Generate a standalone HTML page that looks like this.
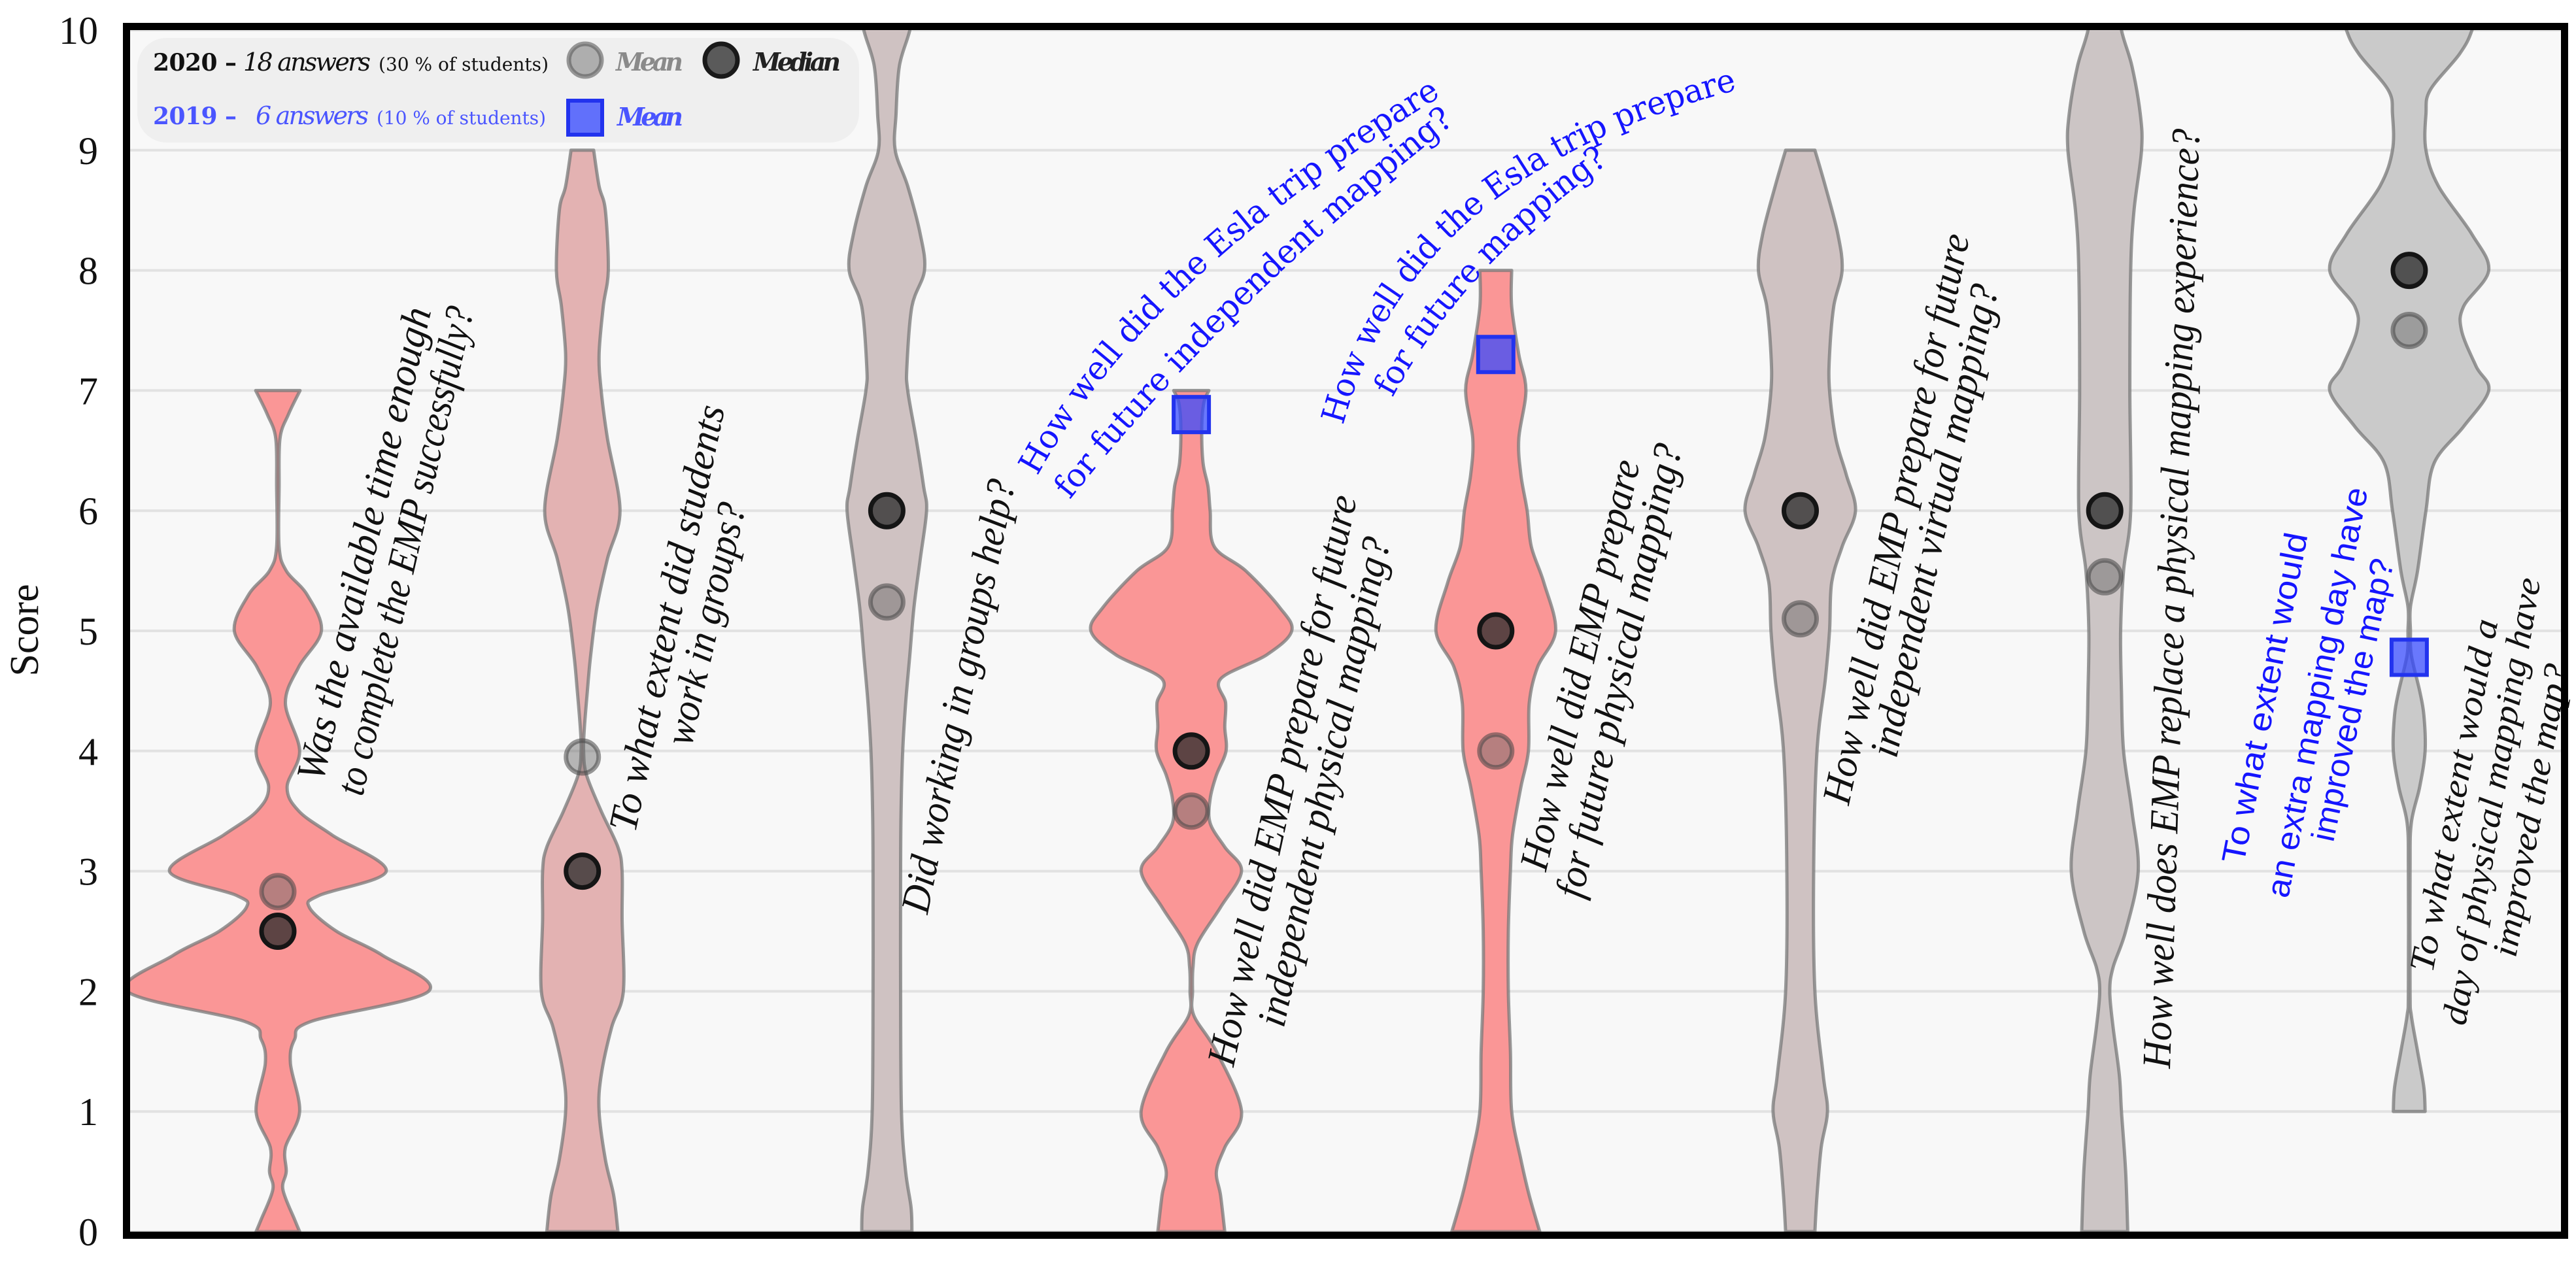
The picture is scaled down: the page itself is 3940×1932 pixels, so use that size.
<!DOCTYPE html>
<html><head><meta charset="utf-8"><style>
html,body{margin:0;padding:0;background:#fff;}
svg{display:block;}
</style></head><body>
<svg id="chart" width="3940" height="1932" viewBox="0 0 3940 1932" xmlns="http://www.w3.org/2000/svg" xmlns:xlink="http://www.w3.org/1999/xlink">
<defs><clipPath id="plotclip"><rect x="199" y="46" width="3718" height="1838"/></clipPath></defs>
<rect x="199" y="46" width="3718" height="1838" fill="#f8f8f8"/>
<g id="grid"></g>
<g id="violins" clip-path="url(#plotclip)"></g>
<g id="markers"></g>
<g id="labels" font-family="'Liberation Serif', serif" font-style="italic" font-size="62" fill="#111"></g>
<g>
  <rect x="210" y="58" width="1104" height="160" rx="45" fill="#eeeeee" fill-opacity="0.95"/>
  <text x="234" y="108" font-family="'DejaVu Serif', serif" fill="#111" font-size="36"><tspan font-weight="bold" textLength="128">2020 –</tspan><tspan x="372" font-style="italic" font-size="38" textLength="195">18 answers</tspan><tspan x="579" font-size="28" textLength="260">(30 % of students)</tspan></text>
  <circle cx="895" cy="92" r="25" fill="rgba(110,110,110,0.5)" stroke="rgba(90,90,90,0.6)" stroke-width="7"/>
  <text x="942" y="108" font-family="'DejaVu Serif', serif" font-style="italic" font-weight="bold" font-size="38" fill="#8a8a8a" textLength="103">Mean</text>
  <circle cx="1103" cy="92" r="25" fill="rgba(40,40,40,0.75)" stroke="#1a1a1a" stroke-width="7"/>
  <text x="1152" y="108" font-family="'DejaVu Serif', serif" font-style="italic" font-weight="bold" font-size="38" fill="#222" textLength="134">Median</text>
  <text x="234" y="190" font-family="'DejaVu Serif', serif" fill="#4a55ff" font-size="36"><tspan font-weight="bold" textLength="128">2019 –</tspan><tspan x="391" font-style="italic" font-size="38" textLength="173">6 answers</tspan><tspan x="576" font-size="28" textLength="259">(10 % of students)</tspan></text>
  <rect x="869" y="154" width="52" height="52" fill="rgba(50,70,255,0.75)" stroke="#2233ee" stroke-width="6"/>
  <text x="944" y="192" font-family="'DejaVu Serif', serif" font-style="italic" font-weight="bold" font-size="38" fill="#4a55ff" textLength="101">Mean</text>
</g>
<g id="yaxis" font-family="'Liberation Serif', serif" font-size="60" fill="#111"></g>
<text x="0" y="0" transform="translate(58,964) rotate(-90)" text-anchor="middle" font-family="'Liberation Serif', serif" font-size="62" fill="#111">Score</text>
<rect x="193.5" y="40.5" width="3729" height="1849" fill="none" stroke="#000" stroke-width="11"/>
</svg>
<script>
const categories = ["time-enough","work-in-groups","groups-help","indep-physical","future-physical","indep-virtual","replace-physical","extra-day"];
const medians2020 = [2.5, 3, 6, 4, 5, 6, 6, 8];
const means2020 = [2.83, 3.95, 5.24, 3.5, 4.0, 5.1, 5.45, 7.5];
const means2019 = [null, null, null, 6.8, 7.3, null, null, 4.78];
const yTicks = [0,1,2,3,4,5,6,7,8,9,10];
const yTickLabels = ["0","1","2","3","4","5","6","7","8","9","10"];
const v1Scores = [0,0.1,0.35,0.5,0.7,1.0,1.4,1.6,1.75,2.0,2.3,2.5,2.7,2.8,3.0,3.3,3.5,3.7,4.0,4.4,4.7,5.0,5.3,5.5,5.7,6.2,6.6,6.8,7.0];
const v1Density = [52,40,12,20,18,52,30,40,80,360,250,140,75,100,259,130,50,22,52,18,50,104,70,20,3,3,5,25,53];
const v2Scores = [0,0.3,0.6,1.0,1.3,1.7,2.0,2.6,3.0,3.2,3.5,3.8,4.0,4.2,4.5,4.8,5.2,5.6,6.0,6.6,7.0,7.3,7.7,8.0,8.5,8.7,9.0];
const v2Density = [85,75,55,40,45,70,98,95,95,85,45,10,3,5,12,20,35,60,90,60,45,40,50,62,55,40,27];
const v3Scores = [0,0.2,0.5,1.0,2.0,3.0,3.5,4.0,4.4,4.8,5.2,5.6,6.0,6.2,6.6,7.0,7.2,7.7,8.0,8.3,8.7,9.0,9.3,9.7,10.0,10.3];
const v3Density = [60,58,45,35,33,33,34,38,45,55,65,80,95,88,70,50,48,60,90,80,50,20,22,30,55,70];
const v4Scores = [0,0.3,0.5,0.7,1.0,1.5,1.8,2.0,2.2,2.4,2.7,3.0,3.2,3.4,3.6,3.8,4.0,4.2,4.4,4.6,4.8,5.0,5.2,5.5,5.7,6.0,6.2,6.4,6.7,6.9,7.0];
const v4Density = [80,70,60,80,120,60,6,3,4,15,70,120,80,45,45,60,83,80,82,70,180,240,210,130,55,45,40,28,25,30,42];
const v5Scores = [0,0.3,0.6,1.0,1.5,2.0,2.5,3.0,3.3,3.7,4.0,4.4,4.7,5.0,5.4,5.7,6.0,6.3,6.6,7.0,7.3,7.7,8.0];
const v5Density = [105,80,60,38,35,30,30,35,40,60,78,80,100,143,115,85,75,60,55,72,55,38,38];
const v6Scores = [0,0.3,0.7,1.0,1.3,2.0,3.0,4.0,4.6,5.0,5.4,5.7,6.0,6.3,6.6,7.0,7.3,7.7,8.0,8.3,8.7,9.0];
const v6Density = [35,40,50,65,55,35,32,40,60,70,75,100,132,110,85,70,70,80,100,90,60,35];
const v7Scores = [0,0.5,1.0,1.3,1.7,2.0,2.2,2.5,3.0,3.5,4.0,4.5,5.0,5.5,6.0,7.0,8.0,8.5,9.0,9.3,9.7,10.0,10.3];
const v7Density = [55,50,40,35,20,12,20,50,80,65,45,40,38,45,62,60,62,70,88,85,65,40,30];
const v8Scores = [1.0,1.2,1.5,1.8,2.0,3.0,3.4,3.7,4.0,4.3,4.5,4.8,5.0,5.2,5.5,6.0,6.4,6.7,7.0,7.2,7.5,7.7,8.0,8.3,8.7,9.0,9.3,9.5,9.8,10.0,10.3];
const v8Density = [38,35,20,5,2,2,5,25,38,35,25,5,3,3,20,40,60,130,190,160,125,130,190,150,70,40,40,50,120,150,170];

const NS = "http://www.w3.org/2000/svg";
const yScale = v => 1884 - 183.8 * v;
const xScale = i => 425 + i * 465.7;
const widthScale = 0.64;
const fills = ["#fa9696","#e3b2b2","#cfc2c2","#fa9696","#fa9696","#cfc2c2","#ccc5c5","#cacaca"];
const profiles = [[v1Scores,v1Density],[v2Scores,v2Density],[v3Scores,v3Density],[v4Scores,v4Density],[v5Scores,v5Density],[v6Scores,v6Density],[v7Scores,v7Density],[v8Scores,v8Density]];

function mk(tag, attrs, parent){const e=document.createElementNS(NS,tag);for(const k in attrs)e.setAttribute(k,attrs[k]);parent.appendChild(e);return e;}
function smooth(pts){
  let d="";
  for(let i=0;i<pts.length-1;i++){
    const p0=pts[Math.max(0,i-1)],p1=pts[i],p2=pts[i+1],p3=pts[Math.min(pts.length-1,i+2)];
    const c1=[p1[0]+(p2[0]-p0[0])/6,p1[1]+(p2[1]-p0[1])/6];
    const c2=[p2[0]-(p3[0]-p1[0])/6,p2[1]-(p3[1]-p1[1])/6];
    d+=` C${c1[0].toFixed(1)},${c1[1].toFixed(1)} ${c2[0].toFixed(1)},${c2[1].toFixed(1)} ${p2[0].toFixed(1)},${p2[1].toFixed(1)}`;
  }
  return d;
}

const grid=document.getElementById("grid");
yTicks.forEach((t,i)=>{
  const l=mk("line",{x1:199,x2:3917,y1:yScale(t),y2:yScale(t),stroke:"#e2e2e2","stroke-width":4},grid);
  
  
  const tx=mk("text",{x:150,y:yScale(t)+21,"text-anchor":"end"},document.getElementById("yaxis"));
  
  
  tx.textContent=yTickLabels[i];
});

const vg=document.getElementById("violins");
profiles.forEach((pr,i)=>{
  const [s,dn]=pr, cx=xScale(i);
  const right=s.map((v,k)=>[cx+dn[k]*widthScale,yScale(v)]);
  const left=s.map((v,k)=>[cx-dn[k]*widthScale,yScale(v)]).reverse();
  let d=`M${cx},${right[0][1]} L${right[0][0]},${right[0][1]}`+smooth(right)+` L${left[0][0]},${left[0][1]}`+smooth(left)+" Z";
  const p=mk("path",{d:d,fill:fills[i],stroke:"rgba(120,120,120,0.75)","stroke-width":5,"stroke-linejoin":"round"},vg);
  
  
});

const mg=document.getElementById("markers");
categories.forEach((c,i)=>{
  const cx=xScale(i);
  const m=mk("circle",{cx:cx,cy:yScale(means2020[i]),r:25,fill:"rgba(100,100,100,0.45)",stroke:"rgba(70,70,70,0.55)","stroke-width":7},mg);
  
  
  const md=mk("circle",{cx:cx,cy:yScale(medians2020[i]),r:25,fill:"rgba(40,40,40,0.75)",stroke:"#151515","stroke-width":7},mg);
  
  
  if(means2019[i]!==null){
    const sq=mk("rect",{x:cx-27,y:yScale(means2019[i])-27,width:54,height:54,fill:"rgba(50,70,255,0.72)",stroke:"#2233ee","stroke-width":6},mg);
    
    
  }
});

const lg=document.getElementById("labels");
const straight=[
 [474,1193,640,471,"Was the available time enough","#111",1,62],
 [535,1215,705,470,"to complete the EMP successfully?","#111",1,62],
 [952,1271,1089,620,"To what extent did students","#111",1,62],
 [1038,1139,1121,770,"work in groups?","#111",1,62],
 [1399,1396,1533,734,"Did working in groups help?","#111",1,62],
 [1867,1629,2056,758,"How well did EMP prepare for future","#111",1,62],
 [1944,1569,2107,823,"independent physical mapping?","#111",1,62],
 [2345,1330,2489,704,"How well did EMP prepare","#111",1,62],
 [2400,1372,2553,680,"for future physical mapping?","#111",1,62],
 [2808,1229,2993,358,"How well did EMP prepare for future","#111",1,62],
 [2881,1157,3037,436,"independent virtual mapping?","#111",1,62],
 [3299,1634,3344,197,"How well does EMP replace a physical mapping experience?","#111",1,62],
 [3415,1320,3513,815,"To what extent would","#1515ff",0,50],
 [3483,1372,3605,746,"an extra mapping day have","#1515ff",0,50],
 [3552,1286,3645,855,"improved the map?","#1515ff",0,50],
 [3703,1486,3803,947,"To what extent would a","#111",1,54],
 [3753,1567,3868,884,"day of physical mapping have","#111",1,54],
 [3830,1463,3911,1016,"improved the map?","#111",1,54]
];
straight.forEach(L=>{
  const [x1,y1,x2,y2,t,col,it,fs]=L;
  const mx=(x1+x2)/2,my=(y1+y2)/2,len=Math.hypot(x2-x1,y2-y1),ang=Math.atan2(y2-y1,x2-x1)*180/Math.PI;
  const e=mk("text",{x:0,y:0,transform:`translate(${mx},${my}) rotate(${ang})`,"text-anchor":"middle","dominant-baseline":"central",fill:col,"font-size":fs,textLength:len.toFixed(0),lengthAdjust:"spacingAndGlyphs","font-style":it?"italic":"normal","font-family":it?"'Liberation Serif', serif":"'Liberation Sans', sans-serif"},lg);
  
  
  e.textContent=t;
});

const curved=[
 ["M1572,720 Q1740,410 2203,128","How well did  the Esla trip prepare"],
 ["M1623,754 Q1868,446 2221,169","for future independent mapping?"],
 ["M2038,646 Q2144,250 2661,119","How well did  the Esla trip prepare"],
 ["M2115,600 Q2225,395 2455,232","for future mapping?"]
];
const defs=document.querySelector("defs");
curved.forEach((c,i)=>{
  const p=mk("path",{id:"cp"+i,d:c[0],fill:"none"},defs);
  const len=p.getTotalLength();
  const e=mk("text",{fill:"#1515ff","font-family":"'DejaVu Serif', serif","font-size":50,"font-style":"normal","dominant-baseline":"central"},lg);
  
  
  const tp=mk("textPath",{href:"#cp"+i,textLength:(len*0.99).toFixed(0),lengthAdjust:"spacingAndGlyphs"},e);
  tp.setAttributeNS("http://www.w3.org/1999/xlink","xlink:href","#cp"+i);
  tp.textContent=c[1];
});
</script>
</body></html>
